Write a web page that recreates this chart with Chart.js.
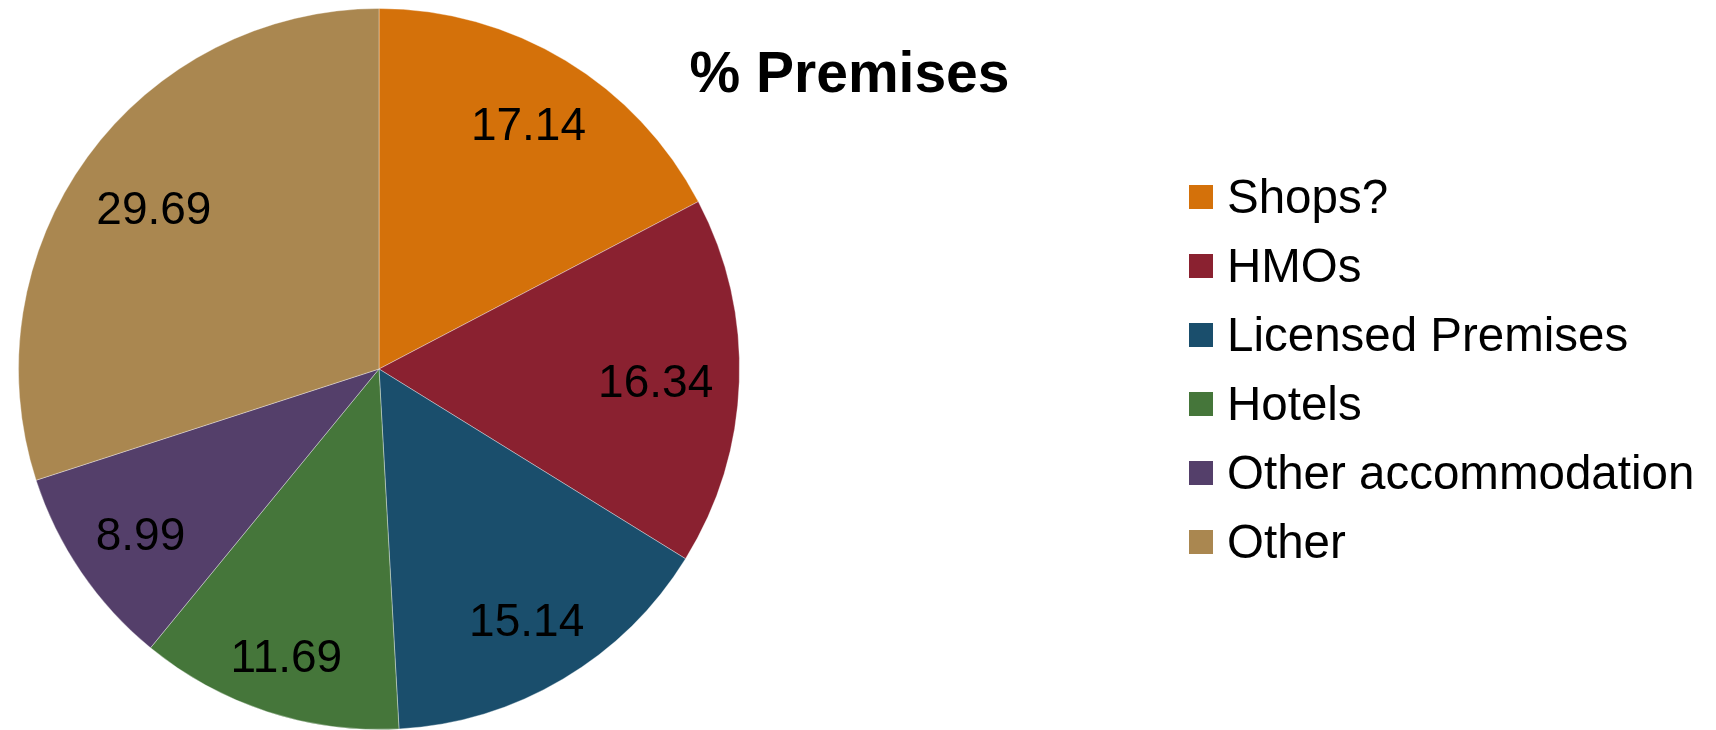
<!DOCTYPE html>
<html>
<head>
<meta charset="utf-8">
<title>% Premises</title>
<script src="https://cdn.jsdelivr.net/npm/chart.js"></script>
<style>
    html, body { margin: 0; padding: 0; background: #fff; }
    #premiseschart { display: block; }
</style>
</head>
<body>
<canvas id="premiseschart" width="1716" height="730"></canvas>
<script>
const chartTitle = '% Premises';
const categories = ['Shops?', 'HMOs', 'Licensed Premises', 'Hotels', 'Other accommodation', 'Other'];
const premisesPct = [17.14, 16.34, 15.14, 11.69, 8.99, 29.69];
const sliceColours = ['#D4710A', '#8A2130', '#1A4E6C', '#45763A', '#543F6A', '#AA8750'];

const fontFamily = "'Liberation Sans', Arial, Helvetica, sans-serif";

// value labels inside each slice, pushed out along the mid angle
// until the far corner of the text sits at edgeRatio * radius
const sliceLabels = {
    id: 'sliceLabels',
    afterDatasetsDraw(chart, args, opts) {
        const ctx = chart.ctx;
        const meta = chart.getDatasetMeta(0);
        const values = chart.data.datasets[0].data;
        ctx.save();
        ctx.font = `${opts.size}px ${fontFamily}`;
        ctx.fillStyle = opts.color;
        ctx.textAlign = 'center';
        ctx.textBaseline = 'alphabetic';
        meta.data.forEach(function (arc, i) {
            const p = arc.getProps(['x', 'y', 'startAngle', 'endAngle', 'outerRadius'], true);
            const text = values[i].toFixed(2);
            const mid = (p.startAngle + p.endAngle) / 2;
            const ux = Math.cos(mid);
            const uy = Math.sin(mid);
            const hw = ctx.measureText(text).width / 2;
            const hh = opts.size * 0.36;
            const cx = (ux >= 0 ? 1 : -1) * hw;
            const cy = (uy >= 0 ? 1 : -1) * hh;
            const R = p.outerRadius * opts.edgeRatio;
            const dot = ux * cx + uy * cy;
            const d = -dot + Math.sqrt(dot * dot - (cx * cx + cy * cy) + R * R);
            ctx.fillText(text, p.x + ux * d, p.y + uy * d + hh + 2);
        });
        ctx.restore();
    }
};

// title and the legend block to the right of the pie
const sideLegend = {
    id: 'sideLegend',
    afterDraw(chart, args, opts) {
        const ctx = chart.ctx;
        const meta = chart.getDatasetMeta(0);
        ctx.save();
        ctx.fillStyle = '#000';
        ctx.textAlign = 'center';
        ctx.textBaseline = 'alphabetic';
        ctx.font = `bold ${opts.titleSize}px ${fontFamily}`;
        ctx.fillText(chartTitle, opts.titleX, opts.titleY);

        ctx.font = `${opts.size}px ${fontFamily}`;
        ctx.textAlign = 'left';
        chart.data.labels.forEach(function (label, i) {
            const rowY = opts.top + i * opts.step;
            ctx.fillStyle = meta.data[i].options.backgroundColor;
            ctx.fillRect(opts.x, rowY - opts.box / 2, opts.box, opts.box);
            ctx.fillStyle = '#000';
            ctx.fillText(label, opts.x + opts.box + opts.gap, rowY + opts.size * 0.345);
        });
        ctx.restore();
    }
};

const data = {
    labels: categories,
    datasets: [
        {
            label: chartTitle,
            data: premisesPct,
            backgroundColor: sliceColours,
            borderColor: 'rgba(255,255,255,0.35)',
            borderWidth: 1
        }
    ]
};

const pieconfig = {
    type: 'pie',
    data: data,
    options: {
        responsive: false,
        animation: false,
        layout: {
            padding: { left: 18, top: 8, right: 976, bottom: 0 }
        },
        plugins: {
            legend: { display: false },
            tooltip: { enabled: false },
            sliceLabels: { size: 46, color: '#000', edgeRatio: 0.93 },
            sideLegend: {
                titleSize: 57, titleX: 849.5, titleY: 92,
                size: 47.5, x: 1189, top: 197, step: 69, box: 24, gap: 14
            }
        }
    },
    plugins: [sliceLabels, sideLegend]
};

new Chart(document.getElementById('premiseschart'), pieconfig);
</script>
</body>
</html>
